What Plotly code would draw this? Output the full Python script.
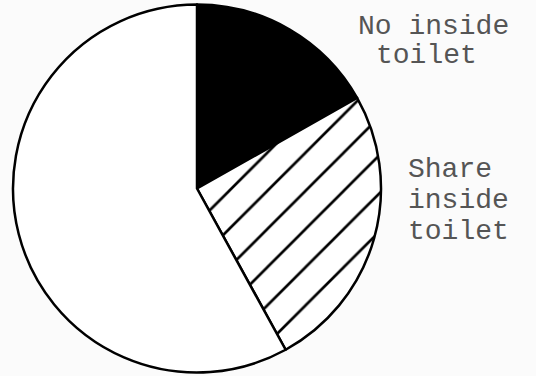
import plotly.graph_objects as go

categories = ["No inside toilet", "Share inside toilet", "Own inside toilet"]
values = [16.8, 25.2, 58.0]
label_lines = [["No inside", "toilet"], ["Share", "inside", "toilet"]]

W, H = 536, 376
cx, cy, r = 197, 188.5, 184

def px(x):
    return x / W

def py(y):
    return 1 - y / H

fig = go.Figure(go.Pie(
    labels=categories,
    values=values,
    sort=False,
    direction="clockwise",
    rotation=0,
    textinfo="none",
    hoverinfo="label+percent",
    showlegend=False,
    marker=dict(
        colors=["black", "white", "white"],
        line=dict(color="black", width=2.5),
        pattern=dict(
            shape=["", "/", ""],
            fgcolor="black",
            bgcolor=["black", "white", "white"],
            size=27,
            solidity=0.1,
        ),
    ),
    domain=dict(x=[px(cx - r), px(cx + r)], y=[max(0, py(cy + r)), min(1, py(cy - r))]),
))

font = dict(family="Liberation Mono, Courier New, monospace", size=28, color="#555555")
ann = []
ann.append(dict(text=label_lines[0][0], x=px(433.5), y=py(26), xanchor="center", yanchor="middle"))
ann.append(dict(text=label_lines[0][1], x=px(426), y=py(55), xanchor="center", yanchor="middle"))
for i, t in enumerate(label_lines[1]):
    ann.append(dict(text=t, x=px(406), y=py(169 + 31 * i), xanchor="left", yanchor="middle"))
for a in ann:
    a.update(xref="paper", yref="paper", showarrow=False, font=font, height=29)

fig.update_layout(
    width=W, height=H,
    margin=dict(l=0, r=0, t=0, b=0),
    paper_bgcolor="#fbfbfb",
    plot_bgcolor="#fbfbfb",
    annotations=ann,
)
fig.write_html(
    "out.html",
    config={"displayModeBar": False},
    post_script="document.body.style.margin='0';document.body.style.overflow='hidden';",
)
